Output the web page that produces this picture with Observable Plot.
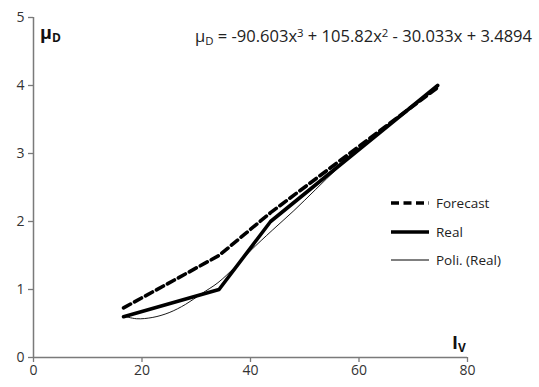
<!DOCTYPE html>
<html>
<head>
<meta charset="utf-8">
<script src="https://cdn.jsdelivr.net/npm/d3@7"></script>
<script src="https://cdn.jsdelivr.net/npm/@observablehq/plot@0.6"></script>
<style>
  html, body { margin: 0; padding: 0; background: #fff; }
  #chart { position: relative; width: 539px; height: 387px; }
  #legend { position: absolute; left: 390px; top: 189px; font-family: "Open Sans", sans-serif; font-size: 13.5px; color: #222; }
  #legend .row { display: flex; align-items: center; height: 28.5px; }
  #legend svg { margin-right: 6px; }
</style>
</head>
<body>
<div id="chart"><div id="legend"></div></div>
<script>
// ---- data ----
const xTicks = [0, 20, 40, 60, 80];
const yTicks = [0, 1, 2, 3, 4, 5];
const realX = [16.6, 34.2, 43.7, 74.5];
const realY = [0.60, 1.00, 2.00, 4.00];
const forecastX = [16.6, 34.2, 43.7, 74.5];
const forecastY = [0.73, 1.50, 2.13, 3.97];
const polyX = [16.6, 19, 22, 25, 28, 31, 34, 37, 40, 44, 48, 52, 56, 60, 64, 68, 72, 74.5];
const polyY = [0.61, 0.57, 0.59, 0.66, 0.78, 0.94, 1.10, 1.32, 1.57, 1.87, 2.16, 2.47, 2.78, 3.06, 3.34, 3.60, 3.84, 4.00];
const seriesNames = ["Forecast", "Real", "Poli. (Real)"];
const equation = ["μ", "D", " = -90.603x", "3", " + 105.82x", "2", " - 30.033x + 3.4894"];

const real = realX.map((x, i) => ({x, y: realY[i]}));
const forecast = forecastX.map((x, i) => ({x, y: forecastY[i]}));
const poly = polyX.map((x, i) => ({x, y: polyY[i]}));

const axisColor = "#7a7a7a";
const font = "'Open Sans', sans-serif";

const plot = Plot.plot({
  width: 539,
  height: 387,
  marginLeft: 33,
  marginRight: 72,
  marginTop: 17,
  marginBottom: 30,
  x: {domain: [0, 80]},
  y: {domain: [0, 5]},
  style: {fontFamily: font, fontSize: "14px", color: "#333", background: "#fff"},
  marks: [
    Plot.axisX({ticks: xTicks, tickFormat: d => String(d), tickSize: 5, tickPadding: 3, label: null, stroke: axisColor, strokeWidth: 1.3, fill: "#333"}),
    Plot.axisY({ticks: yTicks, tickFormat: d => String(d), tickSize: 5, tickPadding: 4, label: null, stroke: axisColor, strokeWidth: 1.3, fill: "#333"}),
    Plot.ruleX([0], {stroke: axisColor, strokeWidth: 1.5}),
    Plot.ruleY([0], {stroke: axisColor, strokeWidth: 1.5}),
    Plot.line(poly, {x: "x", y: "y", curve: "catmull-rom", stroke: "#000", strokeWidth: 0.9}),
    Plot.line(forecast, {x: "x", y: "y", stroke: "#000", strokeWidth: 3.6, strokeDasharray: "8,4.5"}),
    Plot.line(real, {x: "x", y: "y", stroke: "#000", strokeWidth: 3.6, strokeLinejoin: "round", strokeLinecap: "round"})
  ]
});

const chart = document.getElementById("chart");
chart.insertBefore(plot, chart.firstChild);

const svg = d3.select(plot);

// axis titles
const yt = svg.append("text").attr("x", 40).attr("y", 39).attr("text-anchor", "start")
  .attr("font-family", font).attr("font-weight", "bold").attr("font-size", 18).attr("fill", "#111");
yt.append("tspan").text("μ");
yt.append("tspan").attr("font-size", 12).attr("dy", 3).text("D");

const xt = svg.append("text").attr("x", 452).attr("y", 349).attr("text-anchor", "start")
  .attr("font-family", font).attr("font-weight", "bold").attr("font-size", 18).attr("fill", "#111");
xt.append("tspan").text("I");
xt.append("tspan").attr("font-size", 12).attr("dy", 3).text("V");

// equation
const eq = svg.append("text").attr("x", 195).attr("y", 42).attr("text-anchor", "start")
  .attr("font-family", font).attr("font-size", 14.5).attr("fill", "#222");
equation.forEach((t, i) => {
  const ts = eq.append("tspan").text(t);
  if (i === 1) ts.attr("font-size", 10).attr("dy", 3);
  else if (i === 2) ts.attr("dy", -3);
  else if (i === 3 || i === 5) ts.attr("font-size", 10).attr("dy", -5);
  else if (i === 4 || i === 6) ts.attr("dy", 5);
});
const bb = eq.node().getBBox();
const targetW = 338;
if (bb.width > 0) {
  const s = targetW / bb.width;
  eq.attr("font-size", 14.5 * s);
  eq.selectAll("tspan").each(function() {
    const el = d3.select(this);
    const fs = el.attr("font-size");
    if (fs) el.attr("font-size", fs * s);
  });
}

// legend
const legend = d3.select("#legend");
const styles = [
  {w: 3.6, dash: "8,4.5"},
  {w: 3.6, dash: null},
  {w: 1, dash: null}
];
seriesNames.forEach((name, i) => {
  const row = legend.append("div").attr("class", "row");
  const s = row.append("svg").attr("width", 40).attr("height", 10);
  s.append("line").attr("x1", 1).attr("x2", 39).attr("y1", 5).attr("y2", 5)
    .attr("stroke", "#000").attr("stroke-width", styles[i].w)
    .attr("stroke-dasharray", styles[i].dash);
  row.append("span").text(name);
});
</script>
</body>
</html>
